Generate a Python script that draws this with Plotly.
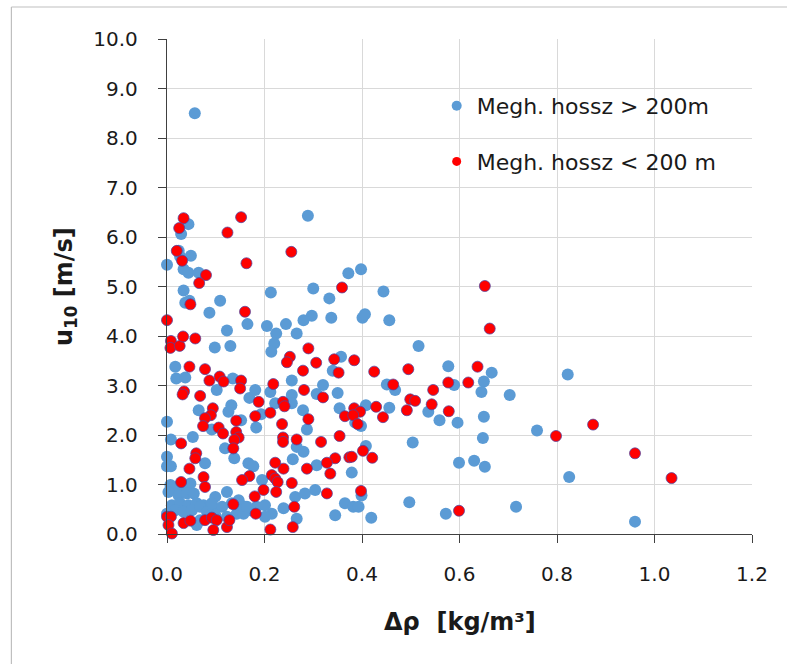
import plotly.graph_objects as go

# ---- data ----
blue_x = [0.044, 0.029, 0.289, 0.024, 0.049, 0.027, 0.0, 0.034, 0.044, 0.065, 0.034, 0.0375, 0.046, 0.109,
          0.087, 0.123, 0.165, 0.213, 0.300, 0.333, 0.372, 0.337, 0.297, 0.280, 0.244, 0.266, 0.205, 0.224,
          0.220, 0.214, 0.098, 0.130, 0.357, 0.057,
          0.340, 0.017, 0.019, 0.0375, 0.135, 0.102, 0.169, 0.181, 0.212, 0.256, 0.256, 0.320, 0.307, 0.350,
          0.222, 0.256, 0.279, 0.354, 0.287, 0.183, 0.193, 0.132, 0.126, 0.065, 0.092, 0.152, 0.119, 0.138,
          0.0, 0.008, 0.053, 0.266, 0.280, 0.307, 0.258, 0.195, 0.167, 0.177, 0.078, 0.0, 0.0, 0.008,
          0.007, 0.021, 0.034, 0.048, 0.003, 0.024, 0.041, 0.055, 0.010, 0.027, 0.044, 0.061, 0.075, 0.017,
          0.034, 0.051, 0.068, 0.082, 0.096, 0.099, 0.092, 0.113, 0.123, 0.133, 0.147, 0.160, 0.171, 0.184,
          0.201, 0.123, 0.143, 0.068, 0.085, 0.0, 0.061, 0.150, 0.099, 0.157,
          0.239, 0.263, 0.283, 0.304, 0.266, 0.345, 0.365, 0.215, 0.201, 0.164,
          0.398, 0.444, 0.401, 0.406, 0.456, 0.516,
          0.577, 0.666, 0.451, 0.468, 0.589, 0.650, 0.645, 0.703, 0.408, 0.456, 0.386, 0.398, 0.536, 0.559,
          0.596, 0.650, 0.648, 0.504, 0.408, 0.379, 0.599, 0.630, 0.652, 0.399, 0.382, 0.393, 0.497, 0.419,
          0.572, 0.716,
          0.822, 0.759, 0.825, 0.960]
blue_y = [6.26, 6.06, 6.43, 5.72, 5.62, 5.60, 5.44, 5.35, 5.28, 5.28, 4.92, 4.67, 4.71, 4.71,
          4.47, 4.11, 4.24, 4.88, 4.96, 4.76, 5.27, 4.37, 4.41, 4.32, 4.24, 4.05, 4.20, 4.05,
          3.85, 3.68, 3.77, 3.80, 3.58, 8.50,
          3.30, 3.38, 3.14, 3.16, 3.14, 2.91, 2.75, 2.91, 2.87, 3.10, 2.81, 3.01, 2.83, 2.85,
          2.64, 2.64, 2.50, 2.54, 2.11, 2.15, 2.42, 2.60, 2.47, 2.50, 2.11, 2.30, 1.73, 1.53,
          2.27, 1.91, 1.96, 1.76, 1.66, 1.39, 1.51, 1.09, 1.43, 1.37, 1.43, 1.56, 1.37, 1.37,
          0.99, 0.95, 0.95, 1.02, 0.85, 0.78, 0.82, 0.82, 0.58, 0.62, 0.58, 0.62, 0.58, 0.48,
          0.45, 0.48, 0.55, 0.45, 0.48, 0.75, 0.62, 0.55, 0.85, 0.62, 0.68, 0.55, 0.48, 0.55,
          0.58, 0.35, 0.41, 0.28, 0.35, 0.41, 0.18, 0.58, 0.38, 0.41,
          0.52, 0.75, 0.82, 0.89, 0.31, 0.38, 0.62, 0.41, 0.35, 0.55,
          5.35, 4.90, 4.37, 4.44, 4.32, 3.80,
          3.39, 3.26, 3.02, 2.91, 3.01, 3.08, 2.87, 2.81, 2.60, 2.55, 2.25, 2.18, 2.47, 2.30,
          2.25, 2.37, 1.94, 1.85, 1.78, 1.24, 1.44, 1.48, 1.36, 0.78, 0.55, 0.55, 0.64, 0.33,
          0.41, 0.55,
          3.22, 2.09, 1.15, 0.25]

red_x = [0.034, 0.025, 0.152, 0.124, 0.020, 0.031, 0.163, 0.255, 0.080, 0.066, 0.048, 0.160, 0.359, 0.0,
         0.008, 0.007, 0.026, 0.033, 0.058, 0.290, 0.252, 0.343,
         0.246, 0.306, 0.352, 0.279, 0.046, 0.078, 0.087, 0.108, 0.116, 0.152, 0.150, 0.035, 0.032, 0.068,
         0.188, 0.218, 0.281, 0.320, 0.238, 0.241, 0.212, 0.365, 0.290, 0.236, 0.181, 0.094, 0.090, 0.078,
         0.074, 0.106, 0.115, 0.142, 0.142, 0.147, 0.138, 0.136, 0.029, 0.238, 0.238, 0.266, 0.316, 0.354,
         0.374, 0.345, 0.328, 0.335, 0.287, 0.239, 0.222, 0.215, 0.222, 0.227, 0.256, 0.224, 0.198, 0.169,
         0.154, 0.060, 0.058, 0.046, 0.075, 0.078, 0.029, 0.180, 0.136, 0.182, 0.261, 0.258, 0.212, 0.0,
         0.008, 0.003, 0.010, 0.034, 0.048, 0.078, 0.092, 0.102, 0.095, 0.123, 0.128, 0.328,
         0.652, 0.662, 0.384,
         0.425, 0.495, 0.637, 0.464, 0.546, 0.577, 0.618, 0.384, 0.396, 0.382, 0.429, 0.443, 0.391, 0.492,
         0.499, 0.509, 0.543, 0.578, 0.402, 0.379, 0.421, 0.398, 0.599,
         0.798, 0.874, 0.960, 1.035]
red_y = [6.38, 6.18, 6.40, 6.09, 5.72, 5.52, 5.47, 5.70, 5.23, 5.07, 4.64, 4.49, 4.98, 4.32,
         3.90, 3.76, 3.80, 3.99, 3.95, 3.75, 3.58, 3.53,
         3.47, 3.46, 3.26, 3.30, 3.38, 3.33, 3.10, 3.18, 3.08, 3.10, 2.94, 2.88, 2.82, 2.79,
         2.67, 3.03, 2.91, 2.76, 2.67, 2.58, 2.45, 2.38, 2.32, 2.22, 2.38, 2.54, 2.40, 2.34,
         2.18, 2.15, 2.03, 2.29, 2.06, 1.95, 1.90, 1.73, 1.83, 1.95, 1.86, 1.91, 1.86, 1.98,
         1.55, 1.53, 1.44, 1.22, 1.32, 1.32, 1.44, 1.19, 1.12, 1.05, 1.03, 0.85, 0.89, 1.17,
         1.09, 1.63, 1.53, 1.32, 1.15, 0.95, 1.05, 0.76, 0.60, 0.41, 0.55, 0.14, 0.09, 0.35,
         0.35, 0.18, 0.01, 0.22, 0.27, 0.28, 0.33, 0.28, 0.08, 0.14, 0.28, 0.82,
         5.01, 4.15, 3.51,
         3.28, 3.33, 3.38, 3.02, 2.91, 3.06, 3.06, 2.54, 2.47, 2.40, 2.57, 2.36, 2.22, 2.50,
         2.72, 2.69, 2.62, 2.48, 1.68, 1.56, 1.54, 0.87, 0.47,
         1.98, 2.21, 1.63, 1.13]

series_names = ["Megh. hossz > 200m", "Megh. hossz < 200 m"]
x_ticks = [0.0, 0.2, 0.4, 0.6, 0.8, 1.0, 1.2]
y_ticks = [0, 1, 2, 3, 4, 5, 6, 7, 8, 9, 10]

BLUE = "#5B9BD5"
RED = "#FF0000"
FONT = "DejaVu Sans"

fig = go.Figure()
fig.add_trace(go.Scatter(x=blue_x, y=blue_y, mode="markers", name=series_names[0],
                         marker=dict(color=BLUE, size=12, line=dict(width=0)),
                         cliponaxis=False, showlegend=False))
fig.add_trace(go.Scatter(x=red_x, y=red_y, mode="markers", name=series_names[1],
                         marker=dict(color=RED, size=11, line=dict(width=1, color="rgba(80,70,160,0.75)")),
                         cliponaxis=False, showlegend=False))
# legend entries (smaller symbols, as in the reference)
fig.add_trace(go.Scatter(x=[None], y=[None], mode="markers", name=series_names[0], legendgroup="a",
                         marker=dict(color=BLUE, size=10)))
fig.add_trace(go.Scatter(x=[None], y=[None], mode="markers", name=series_names[1], legendgroup="b",
                         marker=dict(color=RED, size=9)))

axis_common = dict(showgrid=True, gridcolor="#D9D9D9", gridwidth=1, zeroline=False,
                   showline=True, linecolor="#404040", linewidth=1.3,
                   ticks="outside", ticklen=8, tickcolor="#404040", tickwidth=1.3,
                   tickfont=dict(family=FONT, size=20, color="#1a1a1a"), tickformat=".1f")

fig.update_xaxes(range=[0, 1.2], tickvals=x_ticks, ticklabelstandoff=14, **axis_common)
fig.update_yaxes(range=[0, 10], tickvals=y_ticks, ticklabelstandoff=16, **axis_common)

fig.update_layout(
    width=787, height=664,
    margin=dict(l=167, r=35, t=39, b=130),
    paper_bgcolor="white", plot_bgcolor="white",
    font=dict(family=FONT, color="#1a1a1a"),
    legend=dict(x=0.461, y=0.907, xanchor="left", yanchor="top",
                bgcolor="rgba(0,0,0,0)", font=dict(family=FONT, size=22, color="#1a1a1a"),
                traceorder="grouped", tracegroupgap=24),
    annotations=[
        dict(text="<b>u<sub>10</sub> [m/s]</b>", xref="paper", yref="paper",
             x=-0.1726, y=0.499, xanchor="center", yanchor="middle", textangle=-90,
             showarrow=False, font=dict(family=FONT, size=24, color="#1a1a1a")),
        dict(text="<b>\u0394\u03c1\u00a0 [kg/m\u00b3]</b>", xref="paper", yref="paper",
             x=0.501, y=-0.178, xanchor="center", yanchor="middle",
             showarrow=False, font=dict(family=FONT, size=24, color="#1a1a1a")),
    ],
    shapes=[
        dict(type="line", xref="paper", yref="paper", x0=-0.266, x1=-0.266, y0=-0.3, y1=1.0646,
             line=dict(color="#BFBFBF", width=1.2)),
        dict(type="line", xref="paper", yref="paper", x0=-0.266, x1=1.06, y0=1.0646, y1=1.0646,
             line=dict(color="#BFBFBF", width=1.2)),
    ],
)

fig.write_html("out.html")
